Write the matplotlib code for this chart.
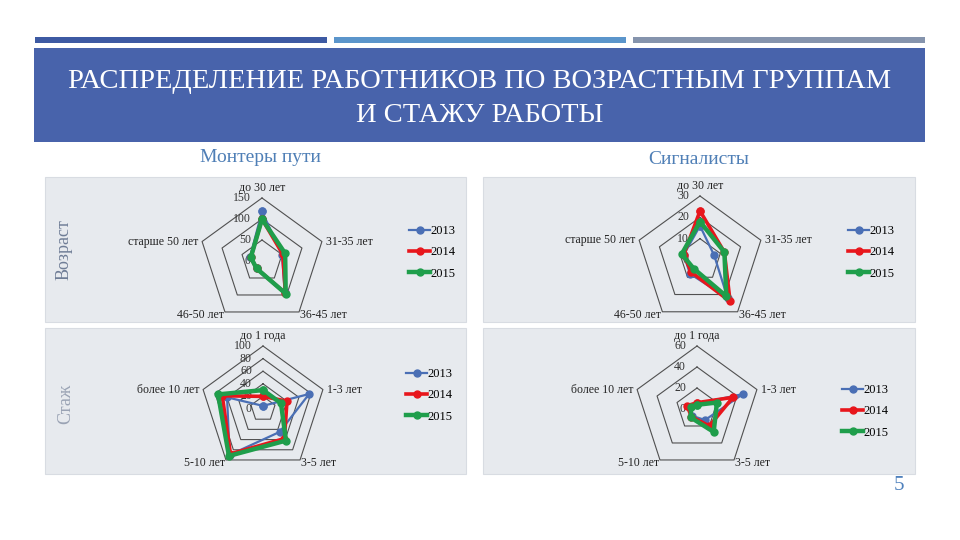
import numpy as np
import matplotlib
matplotlib.use('Agg')
import matplotlib.pyplot as plt
from matplotlib.patches import Rectangle

# ---------------------------------------------------------------------------
# data
# ---------------------------------------------------------------------------
years = ['2013', '2014', '2015']
year_colors = ['#4a6fb5', '#e8161c', '#1f9e4b']

age_groups = ['до 30 лет', '31-35 лет', '36-45 лет', '46-50 лет', 'старше 50 лет']
tenure_groups = ['до 1 года', '1-3 лет', '3-5 лет', '5-10 лет', 'более 10 лет']

track_age_2013 = [118, 50, 92, 22, 30]
track_age_2014 = [100, 52, 95, 22, 28]
track_age_2015 = [100, 58, 96, 22, 28]

signal_age_2013 = [16, 7, 22, 8, 8]
signal_age_2014 = [23, 12, 24, 7, 8]
signal_age_2015 = [18, 12, 21, 5, 9]

track_exp_2013 = [5, 77, 45, 90, 60]
track_exp_2014 = [20, 40, 58, 88, 68]
track_exp_2015 = [30, 30, 62, 92, 75]

signal_exp_2013 = [5, 46, 13, 8, 7]
signal_exp_2014 = [6, 36, 20, 9, 10]
signal_exp_2015 = [4, 20, 27, 10, 6]

track_age_ticks = [0, 50, 100, 150]
signal_age_ticks = [0, 10, 20, 30]
track_exp_ticks = [0, 20, 40, 60, 80, 100]
signal_exp_ticks = [0, 20, 40, 60]

W, H = 960, 540
SERIF = ['Liberation Serif', 'DejaVu Serif']

fig = plt.figure(figsize=(W / 100, H / 100), dpi=100)
fig.patch.set_facecolor('white')


def px_rect(x0, y0, x1, y1, color, **kw):
    """rectangle given in pixel coords (origin top-left), kept behind the axes"""
    fig.add_artist(Rectangle((x0 / W, 1 - y1 / H), (x1 - x0) / W, (y1 - y0) / H,
                             transform=fig.transFigure, facecolor=color,
                             edgecolor=kw.pop('edgecolor', 'none'),
                             zorder=-10, **kw))


def px_text(x, y, s, **kw):
    fig.text(x / W, 1 - y / H, s, family=SERIF, **kw)


# ---------------------------------------------------------------------------
# slide decoration
# ---------------------------------------------------------------------------
px_rect(35, 37, 327, 43, '#3d5aa3')
px_rect(334, 37, 626, 43, '#5b95cb')
px_rect(633, 37, 925, 43, '#8594ad')
px_rect(34, 48, 925, 142, '#4863ab')

px_text(480, 82, 'РАСПРЕДЕЛЕНИЕ РАБОТНИКОВ ПО ВОЗРАСТНЫМ ГРУППАМ',
        color='white', fontsize=20.5, ha='center', va='center')
px_text(480, 116, 'И СТАЖУ РАБОТЫ', color='white', fontsize=20.5,
        ha='center', va='center')

px_text(260, 158, 'Монтеры пути', color='#4f7fb6', fontsize=14,
        ha='center', va='center')
px_text(699, 159, 'Сигналисты', color='#4f7fb6', fontsize=14,
        ha='center', va='center')

# grey panels behind the charts
for x0, y0, x1, y1 in [(45, 177, 466, 322), (483, 177, 915, 322),
                       (45, 328, 466, 474), (483, 328, 915, 474)]:
    px_rect(x0, y0, x1, y1, '#e7eaee', edgecolor='#d8dce2', linewidth=0.8)

px_text(64, 250, 'Возраст', color='#6f7d96', fontsize=13, rotation=90,
        ha='center', va='center')
px_text(66, 404, 'Стаж', color='#9aa3b4', fontsize=13, rotation=90,
        ha='center', va='center')

px_text(899, 486, '5', color='#4f81bd', fontsize=15, ha='center', va='center')


# ---------------------------------------------------------------------------
# radar panels
# ---------------------------------------------------------------------------
def radar(cx, cy, R, groups, series, ticks, legend_xy):
    ax = fig.add_axes([(cx - R) / W, 1 - (cy + R) / H, 2 * R / W, 2 * R / H],
                      projection='polar')
    ax.axis('off')
    ax.set_theta_offset(np.pi / 2)
    ax.set_theta_direction(-1)
    rmax = ticks[-1]
    ax.set_ylim(0, rmax)

    n = len(groups)
    theta = np.linspace(0, 2 * np.pi, n, endpoint=False)
    theta_c = np.append(theta, theta[0])

    # pentagon grid
    for lev in ticks[1:]:
        ax.plot(theta_c, [lev] * (n + 1), color='#505050', lw=0.8,
                clip_on=False, zorder=1)
    for lev in ticks:
        ax.annotate(str(lev), (0, lev), xytext=(-8, 0),
                    textcoords='offset points', ha='right', va='center',
                    fontsize=8.5, family=SERIF, color='#333333')

    # category labels around the outer pentagon
    offs = [((0, 3), 'center', 'bottom'),
            ((3, 0), 'left', 'center'),
            ((1, -2), 'left', 'center'),
            ((-1, -2), 'right', 'center'),
            ((-3, 0), 'right', 'center')]
    for t, g, (xy, ha, va) in zip(theta, groups, offs):
        ax.annotate(g, (t, rmax), xytext=xy, textcoords='offset points',
                    ha=ha, va=va, fontsize=8.5, family=SERIF, color='#222222')

    widths = [1.6, 2.6, 3.2]
    handles = []
    for vals, c, lw, yr in zip(series, year_colors, widths, years):
        v = np.append(vals, vals[0])
        h, = ax.plot(theta_c, v, color=c, lw=lw, marker='o', markersize=5,
                     clip_on=False, zorder=3, label=yr)
        handles.append(h)

    fig.legend(handles=handles, labels=years, loc='upper left',
               bbox_to_anchor=(legend_xy[0] / W, 1 - legend_xy[1] / H),
               frameon=False, handlelength=1.7, handletextpad=0.05,
               labelspacing=0.75, borderpad=0, borderaxespad=0,
               prop={'family': SERIF, 'size': 9})
    return ax


radar(262, 261, 63, age_groups,
      [track_age_2013, track_age_2014, track_age_2015],
      track_age_ticks, (409, 225))
radar(700, 260, 64, age_groups,
      [signal_age_2013, signal_age_2014, signal_age_2015],
      signal_age_ticks, (848, 225))
radar(263, 409, 63, tenure_groups,
      [track_exp_2013, track_exp_2014, track_exp_2015],
      track_exp_ticks, (406, 368))
radar(697, 409, 63, tenure_groups,
      [signal_exp_2013, signal_exp_2014, signal_exp_2015],
      signal_exp_ticks, (842, 384))

fig.savefig('out.png', dpi=100, facecolor='white')
